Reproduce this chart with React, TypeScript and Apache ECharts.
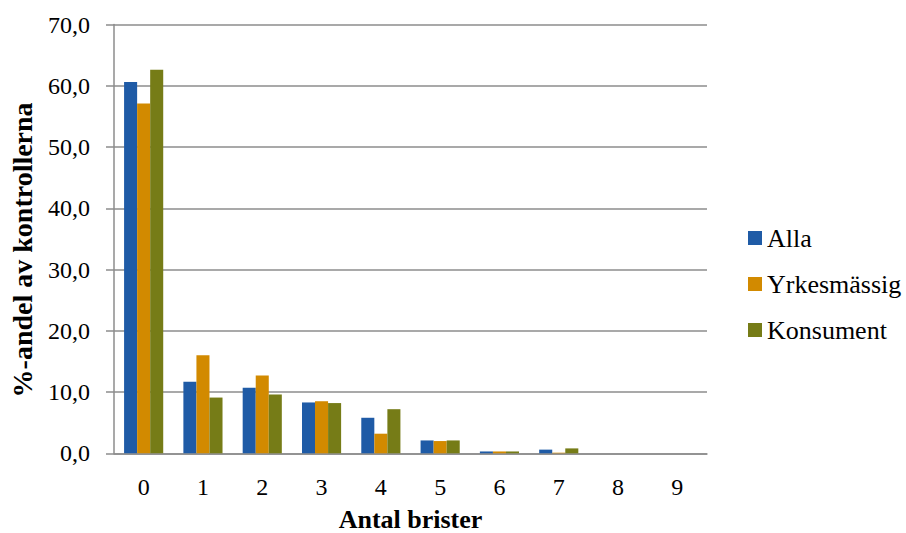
import React, { useEffect, useRef } from "react";
import * as echarts from "echarts";

const categories = ["0", "1", "2", "3", "4", "5", "6", "7", "8", "9"];
const alla = [60.6, 11.7, 10.7, 8.3, 5.8, 2.1, 0.3, 0.6, 0, 0];
const yrkesmassig = [57.1, 16.0, 12.7, 8.5, 3.2, 2.0, 0.3, 0.1, 0, 0];
const konsument = [62.6, 9.1, 9.6, 8.2, 7.2, 2.1, 0.3, 0.8, 0, 0];
const seriesNames = ["Alla", "Yrkesmässig", "Konsument"];
const colors = ["#1F5BA6", "#D28A00", "#767C17"];

const FONT = "Liberation Serif";

export default function App() {
  const ref = useRef<HTMLDivElement>(null);
  useEffect(() => {
    if (!ref.current) return;
    const chart = echarts.init(ref.current, undefined, { renderer: "svg" });
    const data = [alla, yrkesmassig, konsument];
    chart.setOption({
      animation: false,
      textStyle: { fontFamily: FONT },
      grid: { left: 114, right: 199, top: 24.5, bottom: 79.7, outerBoundsMode: "none", containLabel: false },
      legend: {
        orient: "vertical",
        left: 748,
        top: 225,
        padding: 0,
        itemWidth: 14,
        itemHeight: 14,
        itemGap: 20,
        icon: "rect",
        textStyle: { fontFamily: FONT, fontSize: 26, lineHeight: 25, color: "#000" },
        data: seriesNames,
      },
      xAxis: {
        type: "category",
        data: categories,
        name: "Antal brister",
        nameLocation: "middle",
        nameGap: 53,
        nameTextStyle: { fontFamily: FONT, fontSize: 26, fontWeight: "bold", color: "#000" },
        axisLine: { lineStyle: { color: "#8C8C8C", width: 1.5 } },
        axisTick: { length: 8, lineStyle: { color: "#8C8C8C", width: 1.5 } },
        axisLabel: { fontFamily: FONT, fontSize: 24, color: "#000", margin: 22 },
      },
      yAxis: {
        type: "value",
        min: 0,
        max: 70,
        interval: 10,
        name: "%-andel av kontrollerna",
        nameLocation: "middle",
        nameGap: 78,
        nameTextStyle: {
          fontFamily: FONT,
          fontSize: 28,
          fontWeight: "bold",
          color: "#000",
          padding: [0, 22, 0, 0],
        },
        axisLine: { show: true, lineStyle: { color: "#8C8C8C", width: 1.5 } },
        axisTick: { show: true, length: 8, lineStyle: { color: "#8C8C8C", width: 1.5 } },
        axisLabel: {
          fontFamily: FONT,
          fontSize: 24,
          color: "#000",
          margin: 24,
          formatter: (v: number) => v.toFixed(1).replace(".", ","),
        },
        splitLine: { lineStyle: { color: "#8C8C8C", width: 1.5 } },
      },
      series: seriesNames.map((name, i) => ({
        name,
        type: "bar",
        data: data[i],
        barGap: "0%",
        barCategoryGap: "34%",
        itemStyle: { color: colors[i] },
      })),
    });
    return () => chart.dispose();
  }, []);
  return (
    <div
      ref={ref}
      style={{ position: "absolute", left: 0, top: 0, width: 906, height: 533 }}
    />
  );
}
